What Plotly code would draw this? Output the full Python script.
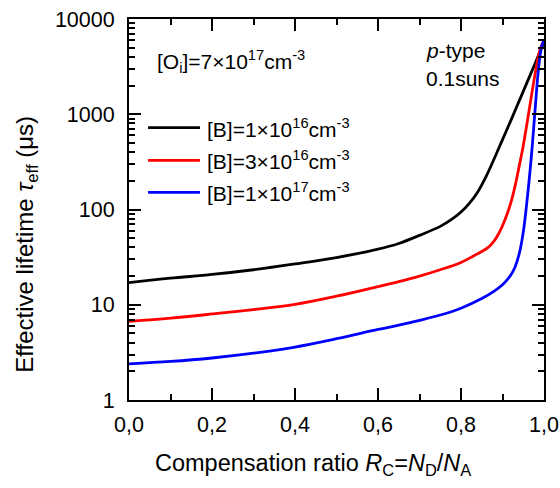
import plotly.graph_objects as go

# Compensation ratio R_C = N_D / N_A for each curve
rc_b1e16 = [0.0, 0.1, 0.2, 0.3, 0.4, 0.5, 0.6, 0.65, 0.7, 0.75, 0.78, 0.8,
            0.82, 0.84, 0.86, 0.88, 0.9, 0.92, 0.94, 0.96, 0.98, 1.0]
# Effective lifetime (us) for [B] = 1e16 cm^-3
tau_b1e16 = [17.1, 19.0, 20.8, 23.3, 26.8, 31.3, 38.3, 44.0, 53.5, 66.5, 80.0,
             94.0, 116.0, 152.0, 220.0, 341.0, 541.0, 857.0, 1374.0, 2203.0,
             3532.0, 5730.0]

rc_b3e16 = [0.0, 0.1, 0.2, 0.3, 0.4, 0.5, 0.6, 0.65, 0.7, 0.75, 0.8, 0.83,
            0.85, 0.86, 0.87, 0.88, 0.89, 0.9, 0.91, 0.92, 0.93, 0.94, 0.95,
            0.96, 0.97, 0.98, 0.99, 1.0]
# Effective lifetime (us) for [B] = 3e16 cm^-3
tau_b3e16 = [6.7, 7.25, 8.0, 8.9, 10.1, 12.3, 15.5, 17.5, 20.0, 23.3, 27.8,
             32.5, 36.3, 38.5, 41.7, 46.8, 55.0, 67.6, 87.0, 117.5, 174.0,
             282.0, 468.0, 851.0, 1585.0, 2880.0, 4680.0, 6030.0]

rc_b1e17 = [0.0, 0.1, 0.2, 0.3, 0.4, 0.5, 0.6, 0.65, 0.7, 0.75, 0.8, 0.85,
            0.88, 0.9, 0.91, 0.92, 0.93, 0.94, 0.95, 0.96, 0.97, 0.975, 0.98,
            0.985, 0.99, 0.995, 1.0]
# Effective lifetime (us) for [B] = 1e17 cm^-3
tau_b1e17 = [2.4, 2.54, 2.76, 3.1, 3.6, 4.4, 5.5, 6.1, 6.85, 7.8, 9.2, 11.6,
             13.9, 16.2, 18.0, 20.5, 24.8, 33.9, 57.5, 135.0, 380.0, 710.0,
             1350.0, 2510.0, 3980.0, 5250.0, 5890.0]

series_names = ["[B]=1×10<sup>16</sup>cm<sup>-3</sup>",
                "[B]=3×10<sup>16</sup>cm<sup>-3</sup>",
                "[B]=1×10<sup>17</sup>cm<sup>-3</sup>"]
series_colors = ["#000000", "#ff0000", "#0000ff"]

x_tickvals = [0.0, 0.2, 0.4, 0.6, 0.8, 1.0]
y_tickvals = [1, 10, 100, 1000, 10000]

FONT = "Liberation Sans, Arial, sans-serif"

fig = go.Figure()
for xs, ys, name, col in zip([rc_b1e16, rc_b3e16, rc_b1e17],
                             [tau_b1e16, tau_b3e16, tau_b1e17],
                             series_names, series_colors):
    fig.add_trace(go.Scatter(
        x=xs, y=ys, mode="lines", name=name, showlegend=False,
        line=dict(color=col, width=2.8, shape="spline", smoothing=1.0),
    ))

axis_common = dict(
    showline=True, linecolor="black", linewidth=2, mirror="allticks",
    ticks="inside", tickcolor="black", tickwidth=1.6, ticklen=12,
    showgrid=False, zeroline=False, automargin=False,
    tickfont=dict(family=FONT, size=21.5, color="black"),
)

fig.update_xaxes(range=[0, 1], tickvals=x_tickvals, tickformat=".1f",
                 ticklabelstandoff=4,
                 minor=dict(ticks="inside", ticklen=6, tickwidth=1.6,
                            tickcolor="black", dtick=0.1, showgrid=False),
                 **axis_common)
fig.update_yaxes(type="log", range=[0, 4], tickvals=y_tickvals,
                 ticktext=[str(v) for v in y_tickvals],
                 ticklabelstandoff=8,
                 minor=dict(ticks="inside", ticklen=6, tickwidth=1.6,
                            tickcolor="black", dtick="D1", showgrid=False),
                 **axis_common)

annotations = [
    dict(text="Compensation ratio <i>R</i><sub>C</sub>=<i>N</i><sub>D</sub>/<i>N</i><sub>A</sub>",
         xref="paper", yref="paper", x=0.444, y=-0.17, xanchor="center",
         yanchor="middle", showarrow=False,
         font=dict(family=FONT, size=23.5, color="black")),
    dict(text="Effective lifetime <i>τ</i><sub>eff</sub> (μs)",
         xref="paper", yref="paper", x=-0.246, y=0.41, xanchor="center",
         yanchor="middle", textangle=-90, showarrow=False,
         font=dict(family=FONT, size=24, color="black")),
    dict(text="[O<sub>i</sub>]=7×10<sup>17</sup>cm<sup>-3</sup>",
         xref="paper", yref="paper", x=0.063, y=0.888, xanchor="left",
         yanchor="middle", showarrow=False,
         font=dict(family=FONT, size=21, color="black")),
    dict(text="<i>p</i>-type",
         xref="paper", yref="paper", x=0.712, y=0.918, xanchor="left",
         yanchor="middle", showarrow=False,
         font=dict(family=FONT, size=21, color="black")),
    dict(text="0.1suns",
         xref="paper", yref="paper", x=0.712, y=0.845, xanchor="left",
         yanchor="middle", showarrow=False,
         font=dict(family=FONT, size=21, color="black")),
]

# Legend drawn inside the axes: a short line sample followed by its label
legend_rows_y = [0.715, 0.629, 0.545]
shapes = []
for yy, name, col in zip(legend_rows_y, series_names, series_colors):
    shapes.append(dict(type="line", xref="paper", yref="paper",
                       x0=0.046, x1=0.171, y0=yy, y1=yy,
                       line=dict(color=col, width=2.8)))
    annotations.append(dict(text=name, xref="paper", yref="paper",
                            x=0.183, y=yy, xanchor="left", yanchor="middle",
                            showarrow=False,
                            font=dict(family=FONT, size=21, color="black")))

fig.update_layout(
    width=560, height=488,
    margin=dict(l=129, r=16, t=19, b=88),
    paper_bgcolor="white", plot_bgcolor="white",
    separators=",.",
    annotations=annotations, shapes=shapes,
    font=dict(family=FONT, color="black"),
)

fig.write_html("out.html")
